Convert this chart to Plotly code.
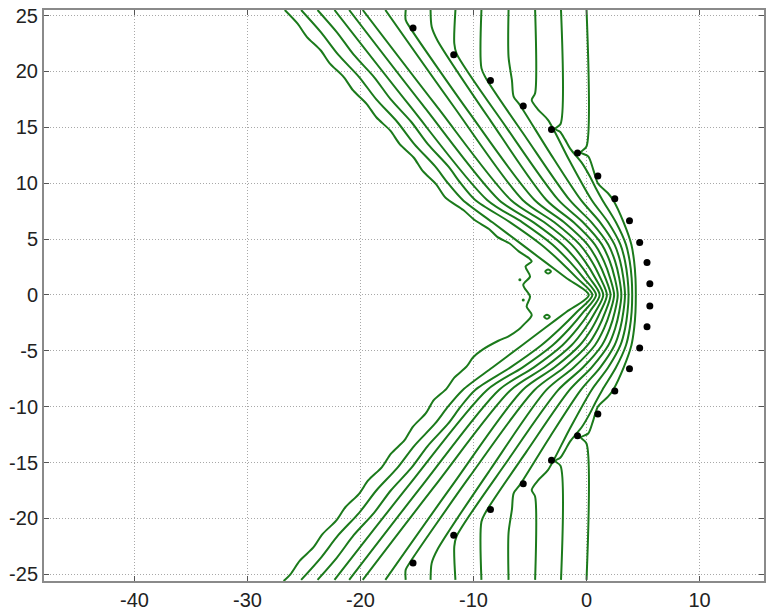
import plotly.graph_objects as go

# ---- data (upper halves of the contour lines; lower halves mirror them) ----
c1_x = [-25.25, -23.49, -21.97, -20.12, -18.6, -16.76, -15.24, -13.39, -12.26, -10.95, -8.33, -5.70, -3.74, -1.76, 0.20]
c1_y = [25.5, 23.5, 21.5, 19.5, 17.5, 15.5, 13.5, 11.5, 10.0, 8.5, 6.5, 4.5, 3.0, 1.5, 0.0]
c2_x = [-23.8, -22.08, -20.6, -18.8, -17.32, -15.52, -14.04, -12.23, -11.14, -9.85, -6.76, -4.00, -2.33, -0.84, 0.52]
c2_y = [25.5, 23.5, 21.5, 19.5, 17.5, 15.5, 13.5, 11.5, 10.0, 8.5, 6.5, 4.5, 3.0, 1.5, 0.0]
c3_x = [-22.3, -15.7, -8.8, -5.68, -3.00, -1.51, -0.25, 0.84]
c3_y = [25.5, 17.0, 8.5, 6.5, 4.5, 3.0, 1.5, 0.0]
c4_x = [-21.0, -14.5, -7.75, -4.69, -2.13, -0.79, 0.28, 1.16]
c4_y = [25.5, 17.0, 8.5, 6.5, 4.5, 3.0, 1.5, 0.0]
c5_x = [-19.8, -13.35, -6.7, -3.74, -1.33, -0.14, 0.78, 1.48]
c5_y = [25.5, 17.0, 8.5, 6.5, 4.5, 3.0, 1.5, 0.0]
c6_x = [-17.8, -11.85, -5.65, -2.85, -0.60, 0.47, 1.23, 1.80]
c6_y = [25.5, 17.0, 8.5, 6.5, 4.5, 3.0, 1.5, 0.0]
c7_x = [-16.0, -16.0, -15.6, -10.3, -4.6, -1.99, 0.09, 1.02, 1.67, 2.12]
c7_y = [25.5, 24.6, 23.9, 16.2, 8.5, 6.5, 4.5, 3.0, 1.5, 0.0]
c8_x = [-13.8, -13.7, -13.2, -8.5, -3.55, -1.14, 0.74, 1.55, 2.09, 2.44]
c8_y = [25.5, 24.0, 22.8, 15.6, 8.5, 6.5, 4.5, 3.0, 1.5, 0.0]
c9_x = [-11.6, -11.7, -11.5, -7.1, -2.5, -0.32, 1.36, 2.06, 2.50, 2.76]
c9_y = [25.5, 22.5, 21.6, 15.0, 8.5, 6.5, 4.5, 3.0, 1.5, 0.0]
c10_x = [-9.3, -9.3, -8.9, -5.3, -1.5, 0.44, 1.93, 2.53, 2.89, 3.08]
c10_y = [25.5, 20.3, 19.4, 14.0, 8.5, 6.5, 4.5, 3.0, 1.5, 0.0]
c11_x = [-6.9, -6.9, -6.6, -6.45, -5.9, -3.3, -0.5, 1.20, 2.48, 2.98, 3.26, 3.40]
c11_y = [25.5, 21.3, 19.2, 17.75, 17.0, 12.8, 8.5, 6.5, 4.5, 3.0, 1.5, 0.0]
c12_x = [-4.55, -4.55, -4.85, -4.25, -3.4, -1.55, 0.45, 1.91, 3.00, 3.41, 3.63, 3.72]
c12_y = [25.5, 18.05, 17.45, 16.55, 15.65, 12.1, 8.5, 6.5, 4.5, 3.0, 1.5, 0.0]
c13_x = [-2.26, -2.3, -2.8, -2.35, -1.9, -1.45, -0.4, 0.3, 0.8, 1.4, 2.60, 3.49, 3.82, 3.99, 4.04]
c13_y = [25.5, 15.3, 14.85, 14.6, 13.9, 13.1, 11.8, 10.6, 9.6, 8.5, 6.5, 4.5, 3.0, 1.5, 0.0]
c14_x = [0.0, 0.0, -0.5, 0.15, 0.6, 1.0, 1.9, 2.35, 3.28, 3.97, 4.21, 4.33, 4.36]
c14_y = [25.5, 13.3, 12.75, 12.4, 11.2, 10.0, 9.1, 8.5, 6.5, 4.5, 3.0, 1.5, 0.0]

# outer-left line that wraps round left of the focus (full path, slightly wavy)
c0_x = [-26.7, -25.58, -24.75, -23.53, -22.7, -21.48, -20.65, -19.46, -18.6, -17.36, -16.53, -15.3,
        -14.5, -13.3, -12.47, -10.9, -9.9, -8.63, -7.9, -6.8, -6.0, -5.1,
        -4.85, -5.4, -5.0, -5.6, -5.0, -5.3, -4.85, -5.6, -6.0, -6.9,
        -7.8, -9.2, -10.05, -10.6, -11.7, -12.4, -13.5, -14.23, -15.37, -16.1, -17.3, -18.1,
        -19.32, -20.13, -21.34, -22.15, -23.36, -24.17, -25.38, -26.2, -26.8]
c0_y = [25.5, 24.3, 23.1, 21.9, 20.7, 19.5, 18.3, 17.1, 15.9, 14.7, 13.5, 12.3,
        11.1, 9.9, 8.7, 7.6, 6.7, 5.9, 5.2, 4.6, 3.9, 3.3,
        3.0, 2.55, 1.65, 0.9, -0.15, -1.05, -1.8, -2.7, -3.1, -3.7,
        -4.1, -4.9, -5.6, -6.4, -7.4, -8.4, -9.4, -10.6, -11.8, -13.0, -14.2, -15.4,
        -16.6, -17.8, -19.0, -20.2, -21.4, -22.6, -23.8, -25.0, -25.6]

# small islands left of the focus
blob1_x = [-3.65, -3.4, -3.15, -3.4, -3.65]
blob1_y = [2.1, 2.28, 2.1, 1.92, 2.1]
blob2_x = [-3.75, -3.5, -3.25, -3.5, -3.75]
blob2_y = [-1.95, -1.77, -1.95, -2.13, -1.95]
speck_x = [-5.9, -5.6]
speck_y = [1.35, -0.45]

# black dots (sources)
dot_x = [-15.35, -11.75, -8.5, -5.6, -3.1, -0.8, 1.0, 2.5, 3.8, 4.7, 5.35, 5.6,
         5.6, 5.35, 4.7, 3.8, 2.5, 1.0, -0.8, -3.1, -5.6, -8.5, -11.75, -15.35]
dot_y = [23.9, 21.5, 19.2, 16.9, 14.8, 12.7, 10.65, 8.6, 6.65, 4.7, 2.9, 1.0,
         -1.0, -2.85, -4.75, -6.6, -8.6, -10.65, -12.6, -14.8, -16.9, -19.2, -21.5, -24.0]

x_ticks = [-40, -30, -20, -10, 0, 10]
y_ticks = [-25, -20, -15, -10, -5, 0, 5, 10, 15, 20, 25]

GREEN = "#1b7a1b"

upper = [(c1_x, c1_y), (c2_x, c2_y), (c3_x, c3_y), (c4_x, c4_y), (c5_x, c5_y), (c6_x, c6_y),
         (c7_x, c7_y), (c8_x, c8_y), (c9_x, c9_y), (c10_x, c10_y), (c11_x, c11_y),
         (c12_x, c12_y), (c13_x, c13_y), (c14_x, c14_y)]

fig = go.Figure()
line_style = dict(color=GREEN, width=2, shape="spline", smoothing=0.8)

fig.add_trace(go.Scatter(x=c0_x, y=c0_y, mode="lines", line=line_style, hoverinfo="skip"))
for xs, ys in upper:
    full_x = list(xs) + list(xs[-2::-1])
    full_y = list(ys) + [-v for v in ys[-2::-1]]
    fig.add_trace(go.Scatter(x=full_x, y=full_y, mode="lines", line=line_style, hoverinfo="skip"))

for bx, by in [(blob1_x, blob1_y), (blob2_x, blob2_y)]:
    fig.add_trace(go.Scatter(x=bx, y=by, mode="lines",
                             line=dict(color=GREEN, width=2, shape="spline"), hoverinfo="skip"))
fig.add_trace(go.Scatter(x=speck_x, y=speck_y, mode="markers",
                         marker=dict(color=GREEN, size=3), hoverinfo="skip"))

fig.add_trace(go.Scatter(x=dot_x, y=dot_y, mode="markers",
                         marker=dict(color="black", size=7), hoverinfo="skip"))

axis_common = dict(
    showgrid=True, gridcolor="#a8a8a8", griddash="1px,2px", gridwidth=1,
    zeroline=False, showline=True, linecolor="#8a8a8a", linewidth=2,
    ticks="inside", ticklen=5, tickcolor="#555555", mirror="ticks",
    tickfont=dict(family="Liberation Sans, Arial, sans-serif", size=20, color="#222222"),
)

fig.update_layout(
    width=766, height=613,
    margin=dict(l=44, r=0, t=10, b=32),
    paper_bgcolor="white", plot_bgcolor="white",
    showlegend=False,
    xaxis=dict(range=[-48, 15.7], tickvals=x_ticks, ticktext=[str(v) for v in x_ticks], **axis_common),
    yaxis=dict(range=[-25.6, 25.5], tickvals=y_ticks, ticktext=[str(v) for v in y_ticks], **axis_common),
)

fig.write_html("out.html")
